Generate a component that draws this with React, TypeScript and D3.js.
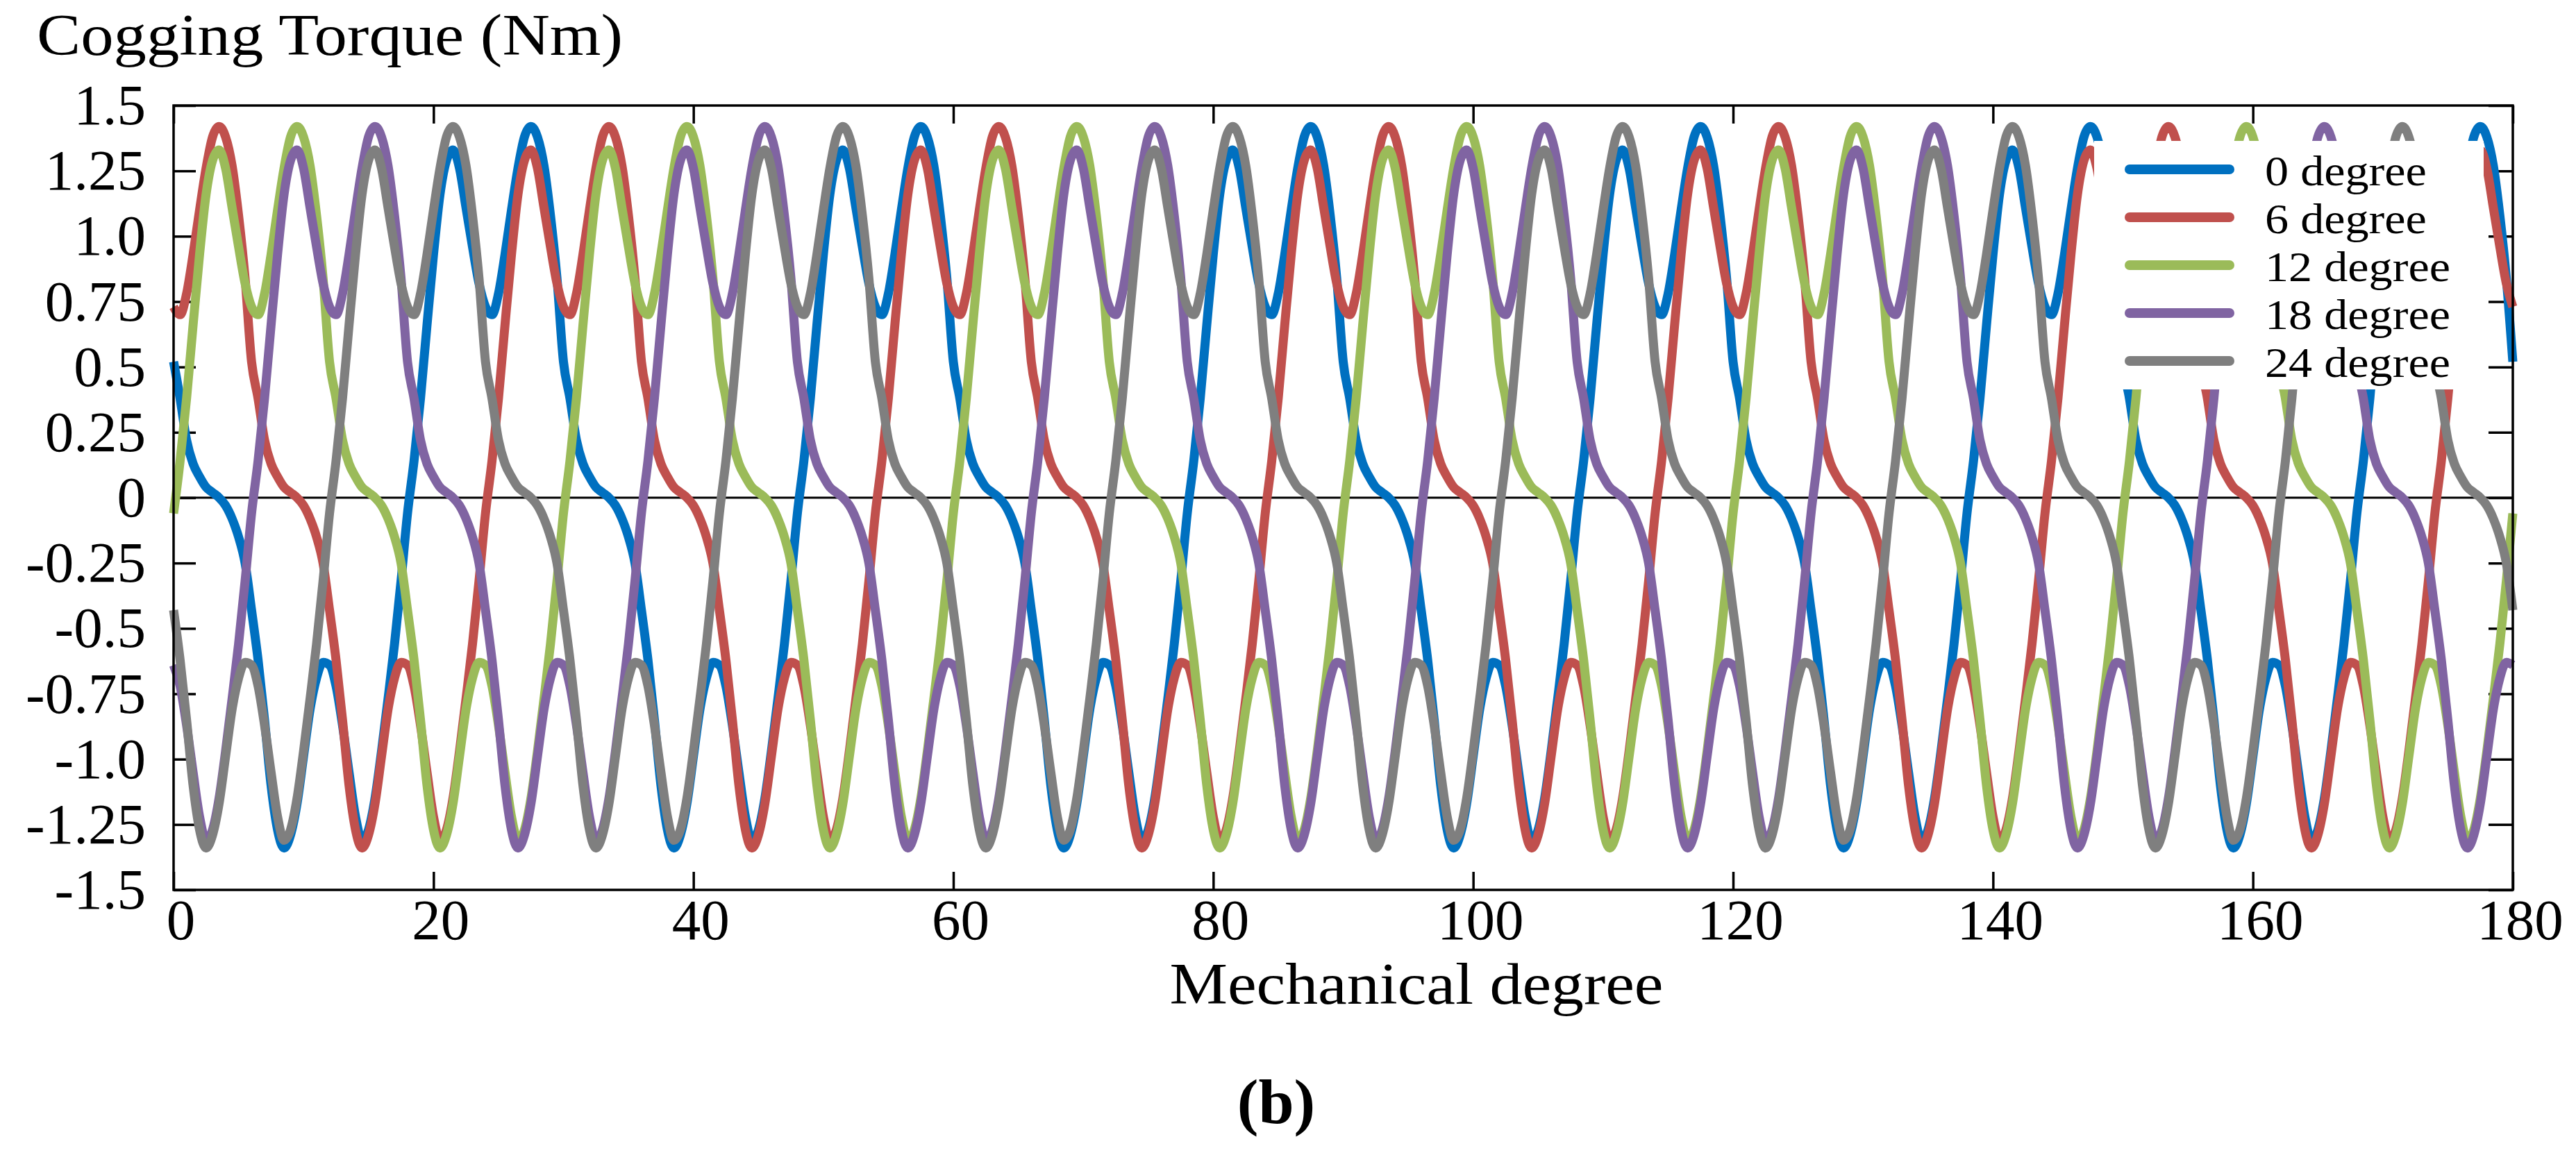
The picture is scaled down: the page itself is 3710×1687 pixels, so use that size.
import { useEffect, useRef } from 'react';
import * as d3 from 'd3';

// Cogging torque (Nm) every 0.5 mechanical degree, 0..180
const DEGREE_STEP = 0.5;

const torque0deg = [
  0.52, 0.38, 0.22, 0.13, 0.08, 0.04, 0.02, 0.00, -0.03, -0.08, -0.15, -0.25, -0.43, -0.62, -0.85, -1.10, -1.27, -1.34, -1.29, -1.17, -0.99, -0.81, -0.69, -0.63, -0.64, -0.72, -0.87, -1.05, -1.22, -1.31, -1.27, -1.15, -0.97, -0.77, -0.56, -0.32, -0.06, 0.14, 0.38, 0.66, 0.93, 1.16, 1.29, 1.33, 1.26, 1.11, 0.96, 0.82, 0.73, 0.70, 0.78, 0.93, 1.10, 1.26, 1.38, 1.42, 1.38, 1.27, 1.08, 0.84,
  0.52, 0.38, 0.22, 0.13, 0.08, 0.04, 0.02, 0.00, -0.03, -0.08, -0.15, -0.25, -0.43, -0.62, -0.85, -1.10, -1.27, -1.34, -1.29, -1.17, -0.99, -0.81, -0.69, -0.63, -0.64, -0.72, -0.87, -1.05, -1.22, -1.31, -1.27, -1.15, -0.97, -0.77, -0.56, -0.32, -0.06, 0.14, 0.38, 0.66, 0.93, 1.16, 1.29, 1.33, 1.26, 1.11, 0.96, 0.82, 0.73, 0.70, 0.78, 0.93, 1.10, 1.26, 1.38, 1.42, 1.38, 1.27, 1.08, 0.84,
  0.52, 0.38, 0.22, 0.13, 0.08, 0.04, 0.02, 0.00, -0.03, -0.08, -0.15, -0.25, -0.43, -0.62, -0.85, -1.10, -1.27, -1.34, -1.29, -1.17, -0.99, -0.81, -0.69, -0.63, -0.64, -0.72, -0.87, -1.05, -1.22, -1.31, -1.27, -1.15, -0.97, -0.77, -0.56, -0.32, -0.06, 0.14, 0.38, 0.66, 0.93, 1.16, 1.29, 1.33, 1.26, 1.11, 0.96, 0.82, 0.73, 0.70, 0.78, 0.93, 1.10, 1.26, 1.38, 1.42, 1.38, 1.27, 1.08, 0.84,
  0.52, 0.38, 0.22, 0.13, 0.08, 0.04, 0.02, 0.00, -0.03, -0.08, -0.15, -0.25, -0.43, -0.62, -0.85, -1.10, -1.27, -1.34, -1.29, -1.17, -0.99, -0.81, -0.69, -0.63, -0.64, -0.72, -0.87, -1.05, -1.22, -1.31, -1.27, -1.15, -0.97, -0.77, -0.56, -0.32, -0.06, 0.14, 0.38, 0.66, 0.93, 1.16, 1.29, 1.33, 1.26, 1.11, 0.96, 0.82, 0.73, 0.70, 0.78, 0.93, 1.10, 1.26, 1.38, 1.42, 1.38, 1.27, 1.08, 0.84,
  0.52, 0.38, 0.22, 0.13, 0.08, 0.04, 0.02, 0.00, -0.03, -0.08, -0.15, -0.25, -0.43, -0.62, -0.85, -1.10, -1.27, -1.34, -1.29, -1.17, -0.99, -0.81, -0.69, -0.63, -0.64, -0.72, -0.87, -1.05, -1.22, -1.31, -1.27, -1.15, -0.97, -0.77, -0.56, -0.32, -0.06, 0.14, 0.38, 0.66, 0.93, 1.16, 1.29, 1.33, 1.26, 1.11, 0.96, 0.82, 0.73, 0.70, 0.78, 0.93, 1.10, 1.26, 1.38, 1.42, 1.38, 1.27, 1.08, 0.84,
  0.52, 0.38, 0.22, 0.13, 0.08, 0.04, 0.02, 0.00, -0.03, -0.08, -0.15, -0.25, -0.43, -0.62, -0.85, -1.10, -1.27, -1.34, -1.29, -1.17, -0.99, -0.81, -0.69, -0.63, -0.64, -0.72, -0.87, -1.05, -1.22, -1.31, -1.27, -1.15, -0.97, -0.77, -0.56, -0.32, -0.06, 0.14, 0.38, 0.66, 0.93, 1.16, 1.29, 1.33, 1.26, 1.11, 0.96, 0.82, 0.73, 0.70, 0.78, 0.93, 1.10, 1.26, 1.38, 1.42, 1.38, 1.27, 1.08, 0.84,
  0.52,
];

const torque6deg = [
  0.73, 0.70, 0.78, 0.93, 1.10, 1.26, 1.38, 1.42, 1.38, 1.27, 1.08, 0.84, 0.52, 0.38, 0.22, 0.13, 0.08, 0.04, 0.02, 0.00, -0.03, -0.08, -0.15, -0.25, -0.43, -0.62, -0.85, -1.10, -1.27, -1.34, -1.29, -1.17, -0.99, -0.81, -0.69, -0.63, -0.64, -0.72, -0.87, -1.05, -1.22, -1.31, -1.27, -1.15, -0.97, -0.77, -0.56, -0.32, -0.06, 0.14, 0.38, 0.66, 0.93, 1.16, 1.29, 1.33, 1.26, 1.11, 0.96, 0.82,
  0.73, 0.70, 0.78, 0.93, 1.10, 1.26, 1.38, 1.42, 1.38, 1.27, 1.08, 0.84, 0.52, 0.38, 0.22, 0.13, 0.08, 0.04, 0.02, 0.00, -0.03, -0.08, -0.15, -0.25, -0.43, -0.62, -0.85, -1.10, -1.27, -1.34, -1.29, -1.17, -0.99, -0.81, -0.69, -0.63, -0.64, -0.72, -0.87, -1.05, -1.22, -1.31, -1.27, -1.15, -0.97, -0.77, -0.56, -0.32, -0.06, 0.14, 0.38, 0.66, 0.93, 1.16, 1.29, 1.33, 1.26, 1.11, 0.96, 0.82,
  0.73, 0.70, 0.78, 0.93, 1.10, 1.26, 1.38, 1.42, 1.38, 1.27, 1.08, 0.84, 0.52, 0.38, 0.22, 0.13, 0.08, 0.04, 0.02, 0.00, -0.03, -0.08, -0.15, -0.25, -0.43, -0.62, -0.85, -1.10, -1.27, -1.34, -1.29, -1.17, -0.99, -0.81, -0.69, -0.63, -0.64, -0.72, -0.87, -1.05, -1.22, -1.31, -1.27, -1.15, -0.97, -0.77, -0.56, -0.32, -0.06, 0.14, 0.38, 0.66, 0.93, 1.16, 1.29, 1.33, 1.26, 1.11, 0.96, 0.82,
  0.73, 0.70, 0.78, 0.93, 1.10, 1.26, 1.38, 1.42, 1.38, 1.27, 1.08, 0.84, 0.52, 0.38, 0.22, 0.13, 0.08, 0.04, 0.02, 0.00, -0.03, -0.08, -0.15, -0.25, -0.43, -0.62, -0.85, -1.10, -1.27, -1.34, -1.29, -1.17, -0.99, -0.81, -0.69, -0.63, -0.64, -0.72, -0.87, -1.05, -1.22, -1.31, -1.27, -1.15, -0.97, -0.77, -0.56, -0.32, -0.06, 0.14, 0.38, 0.66, 0.93, 1.16, 1.29, 1.33, 1.26, 1.11, 0.96, 0.82,
  0.73, 0.70, 0.78, 0.93, 1.10, 1.26, 1.38, 1.42, 1.38, 1.27, 1.08, 0.84, 0.52, 0.38, 0.22, 0.13, 0.08, 0.04, 0.02, 0.00, -0.03, -0.08, -0.15, -0.25, -0.43, -0.62, -0.85, -1.10, -1.27, -1.34, -1.29, -1.17, -0.99, -0.81, -0.69, -0.63, -0.64, -0.72, -0.87, -1.05, -1.22, -1.31, -1.27, -1.15, -0.97, -0.77, -0.56, -0.32, -0.06, 0.14, 0.38, 0.66, 0.93, 1.16, 1.29, 1.33, 1.26, 1.11, 0.96, 0.82,
  0.73, 0.70, 0.78, 0.93, 1.10, 1.26, 1.38, 1.42, 1.38, 1.27, 1.08, 0.84, 0.52, 0.38, 0.22, 0.13, 0.08, 0.04, 0.02, 0.00, -0.03, -0.08, -0.15, -0.25, -0.43, -0.62, -0.85, -1.10, -1.27, -1.34, -1.29, -1.17, -0.99, -0.81, -0.69, -0.63, -0.64, -0.72, -0.87, -1.05, -1.22, -1.31, -1.27, -1.15, -0.97, -0.77, -0.56, -0.32, -0.06, 0.14, 0.38, 0.66, 0.93, 1.16, 1.29, 1.33, 1.26, 1.11, 0.96, 0.82,
  0.73,
];

const torque12deg = [
  -0.06, 0.14, 0.38, 0.66, 0.93, 1.16, 1.29, 1.33, 1.26, 1.11, 0.96, 0.82, 0.73, 0.70, 0.78, 0.93, 1.10, 1.26, 1.38, 1.42, 1.38, 1.27, 1.08, 0.84, 0.52, 0.38, 0.22, 0.13, 0.08, 0.04, 0.02, 0.00, -0.03, -0.08, -0.15, -0.25, -0.43, -0.62, -0.85, -1.10, -1.27, -1.34, -1.29, -1.17, -0.99, -0.81, -0.69, -0.63, -0.64, -0.72, -0.87, -1.05, -1.22, -1.31, -1.27, -1.15, -0.97, -0.77, -0.56, -0.32,
  -0.06, 0.14, 0.38, 0.66, 0.93, 1.16, 1.29, 1.33, 1.26, 1.11, 0.96, 0.82, 0.73, 0.70, 0.78, 0.93, 1.10, 1.26, 1.38, 1.42, 1.38, 1.27, 1.08, 0.84, 0.52, 0.38, 0.22, 0.13, 0.08, 0.04, 0.02, 0.00, -0.03, -0.08, -0.15, -0.25, -0.43, -0.62, -0.85, -1.10, -1.27, -1.34, -1.29, -1.17, -0.99, -0.81, -0.69, -0.63, -0.64, -0.72, -0.87, -1.05, -1.22, -1.31, -1.27, -1.15, -0.97, -0.77, -0.56, -0.32,
  -0.06, 0.14, 0.38, 0.66, 0.93, 1.16, 1.29, 1.33, 1.26, 1.11, 0.96, 0.82, 0.73, 0.70, 0.78, 0.93, 1.10, 1.26, 1.38, 1.42, 1.38, 1.27, 1.08, 0.84, 0.52, 0.38, 0.22, 0.13, 0.08, 0.04, 0.02, 0.00, -0.03, -0.08, -0.15, -0.25, -0.43, -0.62, -0.85, -1.10, -1.27, -1.34, -1.29, -1.17, -0.99, -0.81, -0.69, -0.63, -0.64, -0.72, -0.87, -1.05, -1.22, -1.31, -1.27, -1.15, -0.97, -0.77, -0.56, -0.32,
  -0.06, 0.14, 0.38, 0.66, 0.93, 1.16, 1.29, 1.33, 1.26, 1.11, 0.96, 0.82, 0.73, 0.70, 0.78, 0.93, 1.10, 1.26, 1.38, 1.42, 1.38, 1.27, 1.08, 0.84, 0.52, 0.38, 0.22, 0.13, 0.08, 0.04, 0.02, 0.00, -0.03, -0.08, -0.15, -0.25, -0.43, -0.62, -0.85, -1.10, -1.27, -1.34, -1.29, -1.17, -0.99, -0.81, -0.69, -0.63, -0.64, -0.72, -0.87, -1.05, -1.22, -1.31, -1.27, -1.15, -0.97, -0.77, -0.56, -0.32,
  -0.06, 0.14, 0.38, 0.66, 0.93, 1.16, 1.29, 1.33, 1.26, 1.11, 0.96, 0.82, 0.73, 0.70, 0.78, 0.93, 1.10, 1.26, 1.38, 1.42, 1.38, 1.27, 1.08, 0.84, 0.52, 0.38, 0.22, 0.13, 0.08, 0.04, 0.02, 0.00, -0.03, -0.08, -0.15, -0.25, -0.43, -0.62, -0.85, -1.10, -1.27, -1.34, -1.29, -1.17, -0.99, -0.81, -0.69, -0.63, -0.64, -0.72, -0.87, -1.05, -1.22, -1.31, -1.27, -1.15, -0.97, -0.77, -0.56, -0.32,
  -0.06, 0.14, 0.38, 0.66, 0.93, 1.16, 1.29, 1.33, 1.26, 1.11, 0.96, 0.82, 0.73, 0.70, 0.78, 0.93, 1.10, 1.26, 1.38, 1.42, 1.38, 1.27, 1.08, 0.84, 0.52, 0.38, 0.22, 0.13, 0.08, 0.04, 0.02, 0.00, -0.03, -0.08, -0.15, -0.25, -0.43, -0.62, -0.85, -1.10, -1.27, -1.34, -1.29, -1.17, -0.99, -0.81, -0.69, -0.63, -0.64, -0.72, -0.87, -1.05, -1.22, -1.31, -1.27, -1.15, -0.97, -0.77, -0.56, -0.32,
  -0.06,
];

const torque18deg = [
  -0.64, -0.72, -0.87, -1.05, -1.22, -1.31, -1.27, -1.15, -0.97, -0.77, -0.56, -0.32, -0.06, 0.14, 0.38, 0.66, 0.93, 1.16, 1.29, 1.33, 1.26, 1.11, 0.96, 0.82, 0.73, 0.70, 0.78, 0.93, 1.10, 1.26, 1.38, 1.42, 1.38, 1.27, 1.08, 0.84, 0.52, 0.38, 0.22, 0.13, 0.08, 0.04, 0.02, 0.00, -0.03, -0.08, -0.15, -0.25, -0.43, -0.62, -0.85, -1.10, -1.27, -1.34, -1.29, -1.17, -0.99, -0.81, -0.69, -0.63,
  -0.64, -0.72, -0.87, -1.05, -1.22, -1.31, -1.27, -1.15, -0.97, -0.77, -0.56, -0.32, -0.06, 0.14, 0.38, 0.66, 0.93, 1.16, 1.29, 1.33, 1.26, 1.11, 0.96, 0.82, 0.73, 0.70, 0.78, 0.93, 1.10, 1.26, 1.38, 1.42, 1.38, 1.27, 1.08, 0.84, 0.52, 0.38, 0.22, 0.13, 0.08, 0.04, 0.02, 0.00, -0.03, -0.08, -0.15, -0.25, -0.43, -0.62, -0.85, -1.10, -1.27, -1.34, -1.29, -1.17, -0.99, -0.81, -0.69, -0.63,
  -0.64, -0.72, -0.87, -1.05, -1.22, -1.31, -1.27, -1.15, -0.97, -0.77, -0.56, -0.32, -0.06, 0.14, 0.38, 0.66, 0.93, 1.16, 1.29, 1.33, 1.26, 1.11, 0.96, 0.82, 0.73, 0.70, 0.78, 0.93, 1.10, 1.26, 1.38, 1.42, 1.38, 1.27, 1.08, 0.84, 0.52, 0.38, 0.22, 0.13, 0.08, 0.04, 0.02, 0.00, -0.03, -0.08, -0.15, -0.25, -0.43, -0.62, -0.85, -1.10, -1.27, -1.34, -1.29, -1.17, -0.99, -0.81, -0.69, -0.63,
  -0.64, -0.72, -0.87, -1.05, -1.22, -1.31, -1.27, -1.15, -0.97, -0.77, -0.56, -0.32, -0.06, 0.14, 0.38, 0.66, 0.93, 1.16, 1.29, 1.33, 1.26, 1.11, 0.96, 0.82, 0.73, 0.70, 0.78, 0.93, 1.10, 1.26, 1.38, 1.42, 1.38, 1.27, 1.08, 0.84, 0.52, 0.38, 0.22, 0.13, 0.08, 0.04, 0.02, 0.00, -0.03, -0.08, -0.15, -0.25, -0.43, -0.62, -0.85, -1.10, -1.27, -1.34, -1.29, -1.17, -0.99, -0.81, -0.69, -0.63,
  -0.64, -0.72, -0.87, -1.05, -1.22, -1.31, -1.27, -1.15, -0.97, -0.77, -0.56, -0.32, -0.06, 0.14, 0.38, 0.66, 0.93, 1.16, 1.29, 1.33, 1.26, 1.11, 0.96, 0.82, 0.73, 0.70, 0.78, 0.93, 1.10, 1.26, 1.38, 1.42, 1.38, 1.27, 1.08, 0.84, 0.52, 0.38, 0.22, 0.13, 0.08, 0.04, 0.02, 0.00, -0.03, -0.08, -0.15, -0.25, -0.43, -0.62, -0.85, -1.10, -1.27, -1.34, -1.29, -1.17, -0.99, -0.81, -0.69, -0.63,
  -0.64, -0.72, -0.87, -1.05, -1.22, -1.31, -1.27, -1.15, -0.97, -0.77, -0.56, -0.32, -0.06, 0.14, 0.38, 0.66, 0.93, 1.16, 1.29, 1.33, 1.26, 1.11, 0.96, 0.82, 0.73, 0.70, 0.78, 0.93, 1.10, 1.26, 1.38, 1.42, 1.38, 1.27, 1.08, 0.84, 0.52, 0.38, 0.22, 0.13, 0.08, 0.04, 0.02, 0.00, -0.03, -0.08, -0.15, -0.25, -0.43, -0.62, -0.85, -1.10, -1.27, -1.34, -1.29, -1.17, -0.99, -0.81, -0.69, -0.63,
  -0.64,
];

const torque24deg = [
  -0.43, -0.62, -0.85, -1.10, -1.27, -1.34, -1.29, -1.17, -0.99, -0.81, -0.69, -0.63, -0.64, -0.72, -0.87, -1.05, -1.22, -1.31, -1.27, -1.15, -0.97, -0.77, -0.56, -0.32, -0.06, 0.14, 0.38, 0.66, 0.93, 1.16, 1.29, 1.33, 1.26, 1.11, 0.96, 0.82, 0.73, 0.70, 0.78, 0.93, 1.10, 1.26, 1.38, 1.42, 1.38, 1.27, 1.08, 0.84, 0.52, 0.38, 0.22, 0.13, 0.08, 0.04, 0.02, 0.00, -0.03, -0.08, -0.15, -0.25,
  -0.43, -0.62, -0.85, -1.10, -1.27, -1.34, -1.29, -1.17, -0.99, -0.81, -0.69, -0.63, -0.64, -0.72, -0.87, -1.05, -1.22, -1.31, -1.27, -1.15, -0.97, -0.77, -0.56, -0.32, -0.06, 0.14, 0.38, 0.66, 0.93, 1.16, 1.29, 1.33, 1.26, 1.11, 0.96, 0.82, 0.73, 0.70, 0.78, 0.93, 1.10, 1.26, 1.38, 1.42, 1.38, 1.27, 1.08, 0.84, 0.52, 0.38, 0.22, 0.13, 0.08, 0.04, 0.02, 0.00, -0.03, -0.08, -0.15, -0.25,
  -0.43, -0.62, -0.85, -1.10, -1.27, -1.34, -1.29, -1.17, -0.99, -0.81, -0.69, -0.63, -0.64, -0.72, -0.87, -1.05, -1.22, -1.31, -1.27, -1.15, -0.97, -0.77, -0.56, -0.32, -0.06, 0.14, 0.38, 0.66, 0.93, 1.16, 1.29, 1.33, 1.26, 1.11, 0.96, 0.82, 0.73, 0.70, 0.78, 0.93, 1.10, 1.26, 1.38, 1.42, 1.38, 1.27, 1.08, 0.84, 0.52, 0.38, 0.22, 0.13, 0.08, 0.04, 0.02, 0.00, -0.03, -0.08, -0.15, -0.25,
  -0.43, -0.62, -0.85, -1.10, -1.27, -1.34, -1.29, -1.17, -0.99, -0.81, -0.69, -0.63, -0.64, -0.72, -0.87, -1.05, -1.22, -1.31, -1.27, -1.15, -0.97, -0.77, -0.56, -0.32, -0.06, 0.14, 0.38, 0.66, 0.93, 1.16, 1.29, 1.33, 1.26, 1.11, 0.96, 0.82, 0.73, 0.70, 0.78, 0.93, 1.10, 1.26, 1.38, 1.42, 1.38, 1.27, 1.08, 0.84, 0.52, 0.38, 0.22, 0.13, 0.08, 0.04, 0.02, 0.00, -0.03, -0.08, -0.15, -0.25,
  -0.43, -0.62, -0.85, -1.10, -1.27, -1.34, -1.29, -1.17, -0.99, -0.81, -0.69, -0.63, -0.64, -0.72, -0.87, -1.05, -1.22, -1.31, -1.27, -1.15, -0.97, -0.77, -0.56, -0.32, -0.06, 0.14, 0.38, 0.66, 0.93, 1.16, 1.29, 1.33, 1.26, 1.11, 0.96, 0.82, 0.73, 0.70, 0.78, 0.93, 1.10, 1.26, 1.38, 1.42, 1.38, 1.27, 1.08, 0.84, 0.52, 0.38, 0.22, 0.13, 0.08, 0.04, 0.02, 0.00, -0.03, -0.08, -0.15, -0.25,
  -0.43, -0.62, -0.85, -1.10, -1.27, -1.34, -1.29, -1.17, -0.99, -0.81, -0.69, -0.63, -0.64, -0.72, -0.87, -1.05, -1.22, -1.31, -1.27, -1.15, -0.97, -0.77, -0.56, -0.32, -0.06, 0.14, 0.38, 0.66, 0.93, 1.16, 1.29, 1.33, 1.26, 1.11, 0.96, 0.82, 0.73, 0.70, 0.78, 0.93, 1.10, 1.26, 1.38, 1.42, 1.38, 1.27, 1.08, 0.84, 0.52, 0.38, 0.22, 0.13, 0.08, 0.04, 0.02, 0.00, -0.03, -0.08, -0.15, -0.25,
  -0.43,
];

const seriesLabels = ['0 degree', '6 degree', '12 degree', '18 degree', '24 degree'];
const seriesColors = ['#0070C0', '#C0504D', '#9BBB59', '#8064A2', '#7F7F7F'];

const xTicks = [0, 20, 40, 60, 80, 100, 120, 140, 160, 180];
const yTicks = [1.5, 1.25, 1.0, 0.75, 0.5, 0.25, 0, -0.25, -0.5, -0.75, -1.0, -1.25, -1.5];
const yTickLabels = ['1.5', '1.25', '1.0', '0.75', '0.5', '0.25', '0', '-0.25', '-0.5', '-0.75', '-1.0', '-1.25', '-1.5'];

const WIDTH = 3710;
const HEIGHT = 1687;
const FONT = 'Liberation Serif, Times New Roman, Times, serif';

export default function App() {
  const svgRef = useRef<SVGSVGElement>(null);

  useEffect(() => {
    if (!svgRef.current) return;

    const svg = d3.select(svgRef.current);
    svg.selectAll('*').remove();

    const series = [torque0deg, torque6deg, torque12deg, torque18deg, torque24deg];

    // plot frame in pixels
    const frame = { left: 250, right: 3619, top: 152, bottom: 1282 };

    const x = d3.scaleLinear().domain([0, 180]).range([frame.left, frame.right]);
    const y = d3.scaleLinear().domain([-1.5, 1.5]).range([frame.bottom, frame.top]);

    svg.append('rect').attr('width', WIDTH).attr('height', HEIGHT).attr('fill', '#fff');

    // Title (y axis name)
    svg
      .append('text')
      .attr('x', 53)
      .attr('y', 79)
      .attr('font-family', FONT)
      .attr('font-size', 84)
      .attr('textLength', 844)
      .attr('lengthAdjust', 'spacingAndGlyphs')
      .text('Cogging Torque (Nm)');

    // Zero line
    svg
      .append('line')
      .attr('x1', frame.left)
      .attr('x2', frame.right)
      .attr('y1', y(0))
      .attr('y2', y(0))
      .attr('stroke', '#000')
      .attr('stroke-width', 3);

    const styleAxis = (g: d3.Selection<SVGGElement, unknown, null, undefined>) => {
      g.select('.domain').remove();
      g.selectAll('line').attr('stroke', '#000').attr('stroke-width', 3.5);
      g.selectAll('text').attr('fill', '#000').attr('font-family', FONT);
      g.attr('font-family', FONT).attr('font-size', 83);
    };

    // Left axis, ticks point inward
    svg
      .append('g')
      .attr('transform', `translate(${frame.left},0)`)
      .call(
        d3
          .axisLeft(y)
          .tickValues(yTicks)
          .tickSizeInner(-32)
          .tickSizeOuter(0)
          .tickPadding(40)
          .tickFormat((_, i) => yTickLabels[i])
      )
      .call(styleAxis);

    // Right axis, ticks only
    svg
      .append('g')
      .attr('transform', `translate(${frame.right},0)`)
      .call(d3.axisRight(y).tickValues(yTicks).tickSizeInner(-35).tickSizeOuter(0).tickFormat(() => ''))
      .call(styleAxis);

    // Bottom axis
    svg
      .append('g')
      .attr('transform', `translate(0,${frame.bottom})`)
      .call(
        d3
          .axisBottom(x)
          .tickValues(xTicks)
          .tickSizeInner(-26)
          .tickSizeOuter(0)
          .tickPadding(12)
          .tickFormat((d) => String(d))
      )
      .call(styleAxis)
      .selectAll('text')
      .attr('dx', 10);

    // Top axis, ticks only
    svg
      .append('g')
      .attr('transform', `translate(0,${frame.top})`)
      .call(d3.axisTop(x).tickValues(xTicks).tickSizeInner(-26).tickSizeOuter(0).tickFormat(() => ''))
      .call(styleAxis);

    // Curves
    const line = d3
      .line<number>()
      .x((_, i) => x(i * DEGREE_STEP))
      .y((d) => y(d))
      .curve(d3.curveMonotoneX);

    series.forEach((values, k) => {
      svg
        .append('path')
        .datum(values)
        .attr('fill', 'none')
        .attr('stroke', seriesColors[k])
        .attr('stroke-width', 13)
        .attr('stroke-linejoin', 'round')
        .attr('d', line);
    });

    // Frame
    svg
      .append('rect')
      .attr('x', frame.left)
      .attr('y', frame.top)
      .attr('width', frame.right - frame.left)
      .attr('height', frame.bottom - frame.top)
      .attr('fill', 'none')
      .attr('stroke', '#000')
      .attr('stroke-width', 3.5);

    // Legend
    const legend = svg.append('g');
    legend
      .append('rect')
      .attr('x', 3016)
      .attr('y', 203)
      .attr('width', 561)
      .attr('height', 358)
      .attr('fill', '#fff');

    seriesLabels.forEach((label, i) => {
      const rowY = 244 + i * 69;
      legend
        .append('line')
        .attr('x1', 3067)
        .attr('x2', 3211)
        .attr('y1', rowY)
        .attr('y2', rowY)
        .attr('stroke', seriesColors[i])
        .attr('stroke-width', 14)
        .attr('stroke-linecap', 'round');
      const text = legend
        .append('text')
        .attr('x', 3262)
        .attr('y', rowY + 23)
        .attr('font-family', FONT)
        .attr('font-size', 62)
        .text(label);
      // the figure's lettering is a little wider than the font
      const natural = (text.node() as SVGTextElement).getComputedTextLength();
      text.attr('textLength', natural * 1.1).attr('lengthAdjust', 'spacingAndGlyphs');
    });

    // X axis name
    svg
      .append('text')
      .attr('x', 2040)
      .attr('y', 1446)
      .attr('text-anchor', 'middle')
      .attr('font-family', FONT)
      .attr('font-size', 84)
      .attr('textLength', 711)
      .attr('lengthAdjust', 'spacingAndGlyphs')
      .text('Mechanical degree');

    // Panel label
    svg
      .append('text')
      .attr('x', 1838)
      .attr('y', 1618)
      .attr('text-anchor', 'middle')
      .attr('font-family', FONT)
      .attr('font-size', 92)
      .attr('font-weight', 'bold')
      .text('(b)');
  }, []);

  return (
    <svg
      ref={svgRef}
      width={WIDTH}
      height={HEIGHT}
      style={{ position: 'absolute', left: 0, top: 0, display: 'block' }}
    />
  );
}
